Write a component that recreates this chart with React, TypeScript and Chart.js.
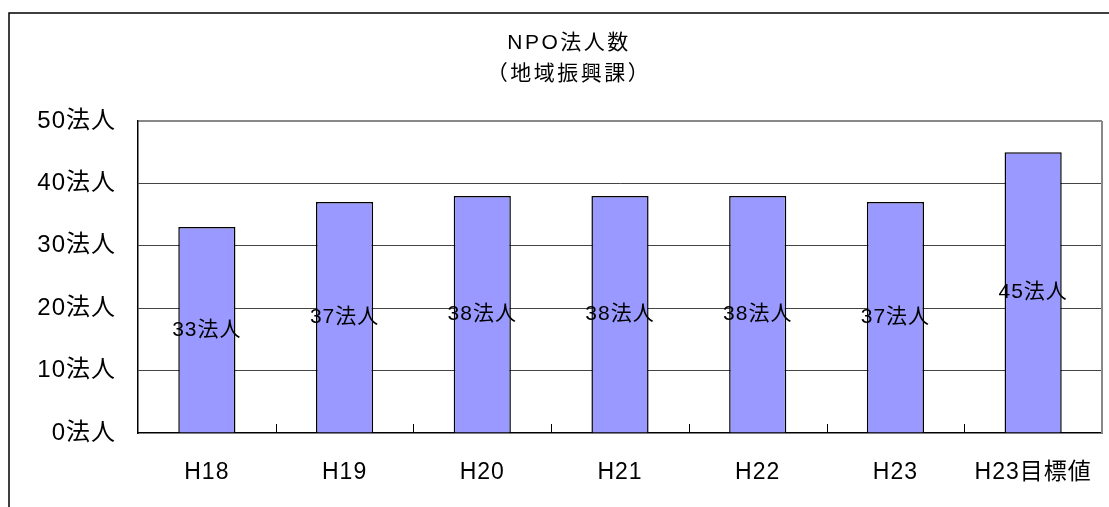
import React, { useEffect, useRef } from "react";
import { Chart, registerables } from "chart.js";

Chart.register(...registerables);

const categories = ["H18", "H19", "H20", "H21", "H22", "H23", "H23目標値"];
const values = [33, 37, 38, 38, 38, 37, 45];
const unit = "法人";
const yMax = 50;
const yStep = 10;
const titleLines = ["NPO法人数", "（地域振興課）"];

const FONT = '"Liberation Sans", Arial, "Noto Sans CJK JP", sans-serif';

export default function App() {
  const ref = useRef<HTMLCanvasElement>(null);

  useEffect(() => {
    document.body.style.margin = "0";
    document.body.style.overflow = "hidden";
    const canvas = ref.current!;

    const framePlugin = {
      id: "frame",
      beforeDraw(chart: any) {
        (chart.ctx as any).letterSpacing = "1px";
      },
      afterDraw(chart: any) {
        const ctx = chart.ctx;
        const a = chart.chartArea;
        ctx.save();
        // outer chart frame
        ctx.strokeStyle = "#000";
        ctx.lineWidth = 1.5;
        ctx.beginPath();
        ctx.moveTo(9, chart.height + 5);
        ctx.lineTo(9, 13);
        ctx.lineTo(chart.width + 5, 13);
        ctx.stroke();
        // plot area right border
        ctx.strokeStyle = "#888";
        ctx.lineWidth = 2;
        ctx.beginPath();
        ctx.moveTo(a.right, a.top);
        ctx.lineTo(a.right, a.bottom);
        ctx.stroke();
        // title
        ctx.fillStyle = "#000";
        ctx.font = `21px ${FONT}`;
        (ctx as any).letterSpacing = "2.5px";
        ctx.textAlign = "center";
        ctx.textBaseline = "middle";
        ctx.fillText(titleLines[0], 569, 43);
        ctx.fillText(titleLines[1], 569, 74);
        ctx.restore();
      },
      afterDatasetsDraw(chart: any) {
        const ctx = chart.ctx;
        const xs = chart.scales.x;
        const a = chart.chartArea;
        ctx.save();
        // inside tick marks on category boundaries
        ctx.strokeStyle = "#000";
        ctx.lineWidth = 1;
        for (let i = 1; i < categories.length; i++) {
          const x = Math.round((xs.getPixelForValue(i - 1) + xs.getPixelForValue(i)) / 2) + 0.5;
          ctx.beginPath();
          ctx.moveTo(x, a.bottom);
          ctx.lineTo(x, a.bottom - 9);
          ctx.stroke();
        }
        // value labels
        const meta = chart.getDatasetMeta(0);
        ctx.fillStyle = "#000";
        ctx.font = `21px ${FONT}`;
        ctx.textAlign = "center";
        ctx.textBaseline = "middle";
        meta.data.forEach((bar: any, i: number) => {
          const y = (bar.y + bar.base) / 2;
          ctx.fillText(values[i] + unit, bar.x, y);
        });
        ctx.restore();
      },
    };

    const chart = new Chart(canvas, {
      type: "bar",
      data: {
        labels: categories,
        datasets: [
          {
            data: values,
            backgroundColor: "#9999FF",
            borderColor: "#000",
            borderWidth: 1.5,
            barPercentage: 0.415,
            categoryPercentage: 1,
          },
        ],
      },
      options: {
        animation: false,
        responsive: false,
        maintainAspectRatio: false,
        layout: { padding: { top: 121, right: 7, left: 0, bottom: 0 } },
        plugins: {
          legend: { display: false },
          title: { display: false },
          tooltip: { enabled: false },
        },
        scales: {
          x: {
            grid: {
              display: true,
              drawOnChartArea: false,
              drawTicks: true,
              tickLength: 16,
              tickColor: "rgba(0,0,0,0)",
            },
            border: { display: true, color: "#000", width: 1.5 },
            ticks: {
              color: "#000",
              padding: 10,
              font: { family: FONT, size: 23 },
              maxRotation: 0,
              autoSkip: false,
            },
            afterFit(scale: any) {
              scale.height = 74;
            },
          },
          y: {
            min: 0,
            max: yMax,
            grid: {
              drawTicks: false,
              color: (c: any) =>
                c.tick && c.tick.value === yMax ? "#888" : c.tick && c.tick.value === 0 ? "rgba(0,0,0,0)" : "#444",
              lineWidth: (c: any) => (c.tick && c.tick.value === yMax ? 2 : 1),
            },
            border: { display: true, color: "#000", width: 1.5 },
            ticks: {
              stepSize: yStep,
              color: "#000",
              padding: 22,
              font: { family: FONT, size: 24 },
              callback: (v: any) => v + unit,
            },
            afterFit(scale: any) {
              scale.width = 138;
            },
          },
        },
      },
      plugins: [framePlugin],
    });
    return () => chart.destroy();
  }, []);

  return (
    <div style={{ width: 1109, height: 507 }}>
      <canvas ref={ref} width={1109} height={507} style={{ display: "block", width: 1109, height: 507 }} />
    </div>
  );
}
